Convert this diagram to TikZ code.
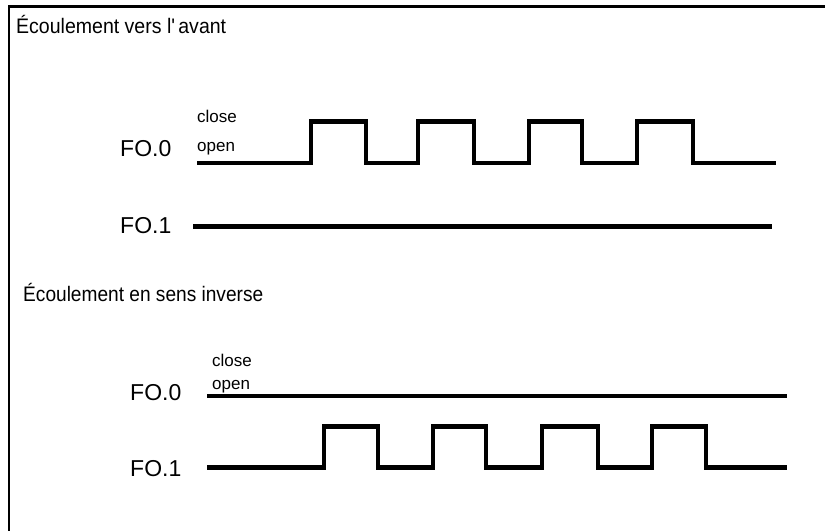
\documentclass[tikz,border=0pt]{standalone}
\usepackage{fontspec}
\setmainfont{Liberation Sans}
\usepackage{graphicx}
\begin{document}
\begin{tikzpicture}[x=1pt,y=-1pt,
  wave/.style={line width=4.7pt, line join=miter, line cap=butt},
  frame/.style={line width=2.5pt},
  titletext/.style={anchor=base west, inner sep=0pt, font=\fontsize{21}{21}\selectfont},
  siglabel/.style={anchor=base west, inner sep=0pt, font=\fontsize{23}{23}\selectfont},
  statelabel/.style={anchor=base west, inner sep=0pt, font=\fontsize{17}{17}\selectfont}]
\useasboundingbox (0,0) rectangle (825,531);
\draw[frame] (825,6.3) -- (9,6.3) -- (9,531);

% titles
\node[titletext] (t1) at (16,33) {\scalebox{0.93}[1]{Écoulement vers l\textquotesingle\,avant}};
\node[titletext] (t2) at (23,301.5) {\scalebox{0.91}[1]{Écoulement en sens inverse}};

% forward flow
\node[siglabel] (a0) at (120,156.5) {FO.0};
\node[siglabel] (a1) at (120,233) {FO.1};
\node[statelabel] (ac) at (197,122.7) {close};
\node[statelabel] (ao) at (197,151.5) {open};
\coordinate (a0s) at (197,163);
\coordinate (a1s) at (193,226.5);
\draw[wave] (a0s) -| (311,121.5) -| (366,163) -| (418,121.5) -| (474,163)
  -| (529,121.5) -| (582,163) -| (637,121.5) -| (693,163) -- (776,163);
\draw[wave] (a1s) -- (772,226.5);

% reverse flow
\node[siglabel] (b0) at (130,400) {FO.0};
\node[siglabel] (b1) at (130,476) {FO.1};
\node[statelabel] (bc) at (212,366) {close};
\node[statelabel] (bo) at (212,389) {open};
\coordinate (b0s) at (207,396);
\coordinate (b1s) at (207,467.3);
\draw[wave] (b0s) -- (787,396);
\draw[wave] (b1s) -| (324,426.7) -| (378,467.3) -| (433,426.7) -| (486,467.3)
  -| (542,426.7) -| (598,467.3) -| (652,426.7) -| (706,467.3) -- (787,467.3);
\end{tikzpicture}
\end{document}
